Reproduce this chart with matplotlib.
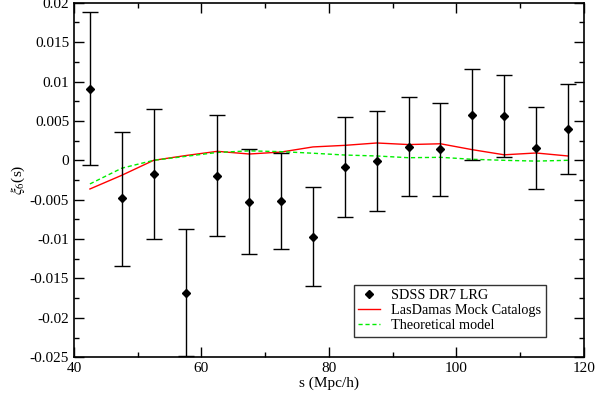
import matplotlib
matplotlib.use("Agg")
import matplotlib.pyplot as plt
from matplotlib.ticker import MultipleLocator, FuncFormatter
from matplotlib.lines import Line2D

s = [42.5, 47.5, 52.5, 57.5, 62.5, 67.5, 72.5, 77.5, 82.5, 87.5, 92.5, 97.5, 102.5, 107.5, 112.5, 117.5]
xi_data = [0.00905, -0.0048, -0.00174, -0.0168, -0.00195, -0.00525, -0.00517, -0.0097,
           -0.00085, -0.0001, 0.00169, 0.0014, 0.00575, 0.00562, 0.0016, 0.0040]
err_hi = [0.0188, 0.00363, 0.00647, -0.00872, 0.00571, 0.00143, 0.00093, -0.0034,
          0.00546, 0.0062, 0.0080, 0.00727, 0.01155, 0.01083, 0.00676, 0.00972]
err_lo = [-0.00056, -0.01345, -0.00999, -0.0249, -0.00965, -0.0119, -0.01126, -0.0159,
          -0.00723, -0.0064, -0.00457, -0.0045, 0.0, 0.00046, -0.0036, -0.0017]
xi_mock = [-0.00364, -0.0019, 0.0, 0.0006, 0.00114, 0.0008, 0.00105, 0.0017,
           0.0019, 0.0022, 0.0020, 0.0021, 0.00135, 0.0007, 0.00093, 0.00055]
xi_model = [-0.0030, -0.0010, 0.0, 0.0005, 0.0010, 0.0012, 0.0011, 0.0009,
            0.00067, 0.00055, 0.00033, 0.00038, 0.00013, 0.0, -0.0001, 0.0]
labels = ['SDSS DR7 LRG', 'LasDamas Mock Catalogs', 'Theoretical model']

plt.rcParams['font.family'] = ['Liberation Serif', 'DejaVu Serif']
plt.rcParams['mathtext.fontset'] = 'stix'

fig = plt.figure(figsize=(6.07, 4.0), dpi=100)
ax = fig.add_axes([0.1219, 0.107, 0.840, 0.886])

yerr = [[d - l for d, l in zip(xi_data, err_lo)], [h - d for d, h in zip(xi_data, err_hi)]]
ax.errorbar(s, xi_data, yerr=yerr, fmt='D', color='black', markersize=4.5,
            ecolor='black', elinewidth=1.0, capsize=5.5, capthick=1.0, zorder=3)
ax.plot(s, xi_mock, color='red', lw=1.0, zorder=2)
ax.plot(s, xi_model, color='#00ee00', lw=1.0, ls=(0, (3, 2)), zorder=2)

ax.set_xlim(40, 120)
ax.set_ylim(-0.025, 0.02)
ax.xaxis.set_major_locator(MultipleLocator(20))
ax.xaxis.set_minor_locator(MultipleLocator(10))
ax.yaxis.set_major_locator(MultipleLocator(0.005))
ax.yaxis.set_minor_locator(MultipleLocator(0.0025))

def yfmt(v, pos):
    if abs(v) < 1e-12:
        return '0'
    return ('%g' % round(v, 4))
ax.yaxis.set_major_formatter(FuncFormatter(yfmt))

ax.tick_params(which='both', direction='in', top=True, right=True, labelsize=11)
ax.tick_params(which='major', length=7, width=1.0)
ax.tick_params(which='minor', length=3.6, width=1.0)
for sp in ax.spines.values():
    sp.set_linewidth(1.2)

ax.set_xlabel('s (Mpc/h)', fontsize=11, labelpad=1)
ax.set_ylabel(r'$\xi_6$(s)', fontsize=11, labelpad=2)

handles = [Line2D([], [], ls='none', marker='D', color='black', markersize=4.5),
           Line2D([], [], color='red', lw=1.0),
           Line2D([], [], color='#00ee00', lw=1.0, ls=(0, (3, 2)))]
leg = ax.legend(handles, labels, loc='lower left', bbox_to_anchor=(0.549, 0.058), fontsize=10.3,
                frameon=True, fancybox=False, edgecolor='black', handlelength=1.5,
                borderpad=0.3, labelspacing=0.15, handletextpad=0.8, borderaxespad=0)
leg.get_frame().set_linewidth(1.0)

fig.savefig('out.png', dpi=100)
